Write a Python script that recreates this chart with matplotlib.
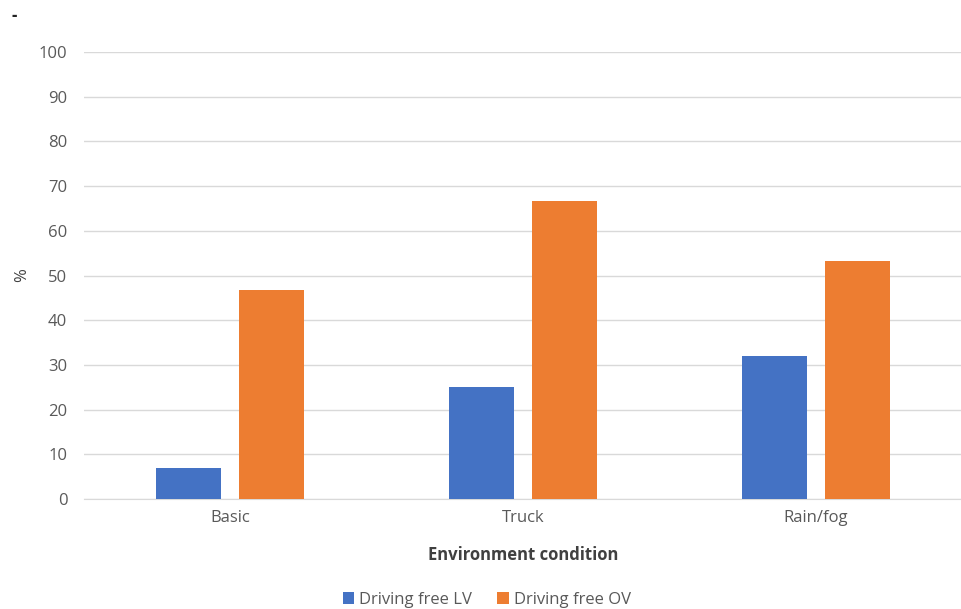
import numpy as np
import matplotlib.pyplot as plt

plt.rcParams['font.family'] = ['Open Sans', 'DejaVu Sans']

categories = ['Basic', 'Truck', 'Rain/fog']
driving_free_lv = [6.9, 25.0, 32.1]
driving_free_ov = [46.7, 66.7, 53.3]
yticks = list(range(0, 101, 10))

fig = plt.figure(figsize=(9.62, 6.09), dpi=100)
ax = fig.add_axes([0.0873, 0.1806, 0.9127, 0.734])

x = np.arange(len(categories))
w = 0.222
off = 0.142
ax.bar(x - off, driving_free_lv, w, color='#4472c4', label='Driving free LV', zorder=3)
ax.bar(x + off, driving_free_ov, w, color='#ed7d31', label='Driving free OV', zorder=3)

ax.set_xlim(-0.5, 2.5)
ax.set_ylim(0, 100)
ax.set_yticks(yticks)
ax.set_xticks(x)
ax.set_xticklabels(categories)
ax.grid(axis='y', color='#d9d9d9', linewidth=1, zorder=0)
for s in ['top', 'right', 'left']:
    ax.spines[s].set_visible(False)
ax.spines['bottom'].set_color('#d9d9d9')
ax.tick_params(length=0, labelsize=12, colors='#595959', pad=12)
ax.tick_params(axis='x', pad=8)

ax.set_xlabel('Environment condition', fontsize=12, fontweight='bold',
              color='#404040', labelpad=14)
ax.set_ylabel('%', fontsize=12, color='#404040')
ax.yaxis.set_label_coords(-0.061, 0.5)

fig.legend(loc='center', bbox_to_anchor=(0.506, 0.015), ncol=2, frameon=False,
           fontsize=12, handlelength=0.7, handleheight=0.7, handletextpad=0.3,
           columnspacing=1.5, labelcolor='#595959')

fig.text(0.012, 0.965, '-', fontsize=12, color='#222222', fontweight='bold')

fig.savefig('out.png', dpi=100)
